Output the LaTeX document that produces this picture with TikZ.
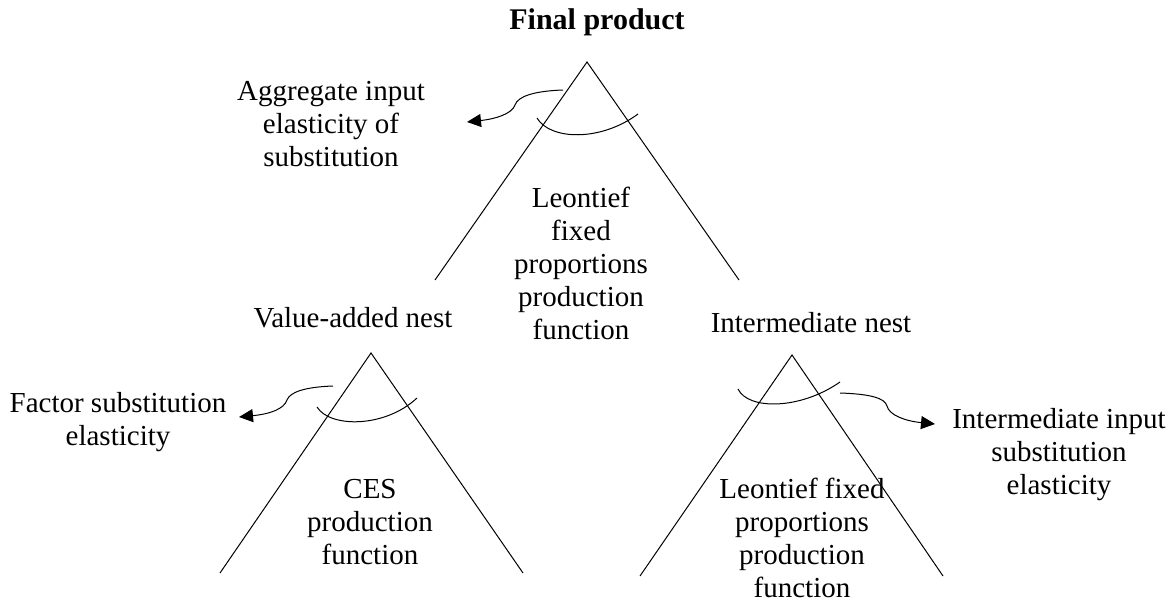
\documentclass[tikz,border=0pt]{standalone}
\usepackage{fontspec}
\setmainfont{Liberation Serif}
\usetikzlibrary{arrows.meta}
\begin{document}
\begin{tikzpicture}[x=1pt,y=-1pt,
  lbl/.style={font=\fontsize{29}{33}\selectfont, align=center, inner sep=0pt, anchor=base},
  edge/.style={line width=1pt, line join=miter},
  elast/.style={line width=1pt},
  pointer/.style={line width=1pt, -{Triangle[length=14pt,width=13pt]}}]
\useasboundingbox (0,0) rectangle (1172,605);

% nest triangles (apex and the two open leg ends)
\coordinate (topA) at (587,62);  \coordinate (topL) at (435,280); \coordinate (topR) at (739,280);
\coordinate (vaA)  at (371,353); \coordinate (vaL)  at (220,573); \coordinate (vaR)  at (523,573);
\coordinate (inA)  at (792,355); \coordinate (inL)  at (640,576); \coordinate (inR)  at (943,576);
\draw[edge] (topL) -- (topA) -- (topR);
\draw[edge] (vaL) -- (vaA) -- (vaR);
\draw[edge] (inL) -- (inA) -- (inR);

% labels (anchored at the baseline of their last line)
\node[lbl, font=\fontsize{30}{33}\selectfont\bfseries] (title) at (597,29) {Final product};
\node[lbl] (aggText) at (331,166) {Aggregate input\\elasticity of\\substitution};
\node[lbl] (topFn) at (581,339) {Leontief\\fixed\\proportions\\production\\function};
\node[lbl] (vaText) at (353,327) {Value-added nest};
\node[lbl] (intText) at (811,332) {Intermediate nest};
\node[lbl] (facText) at (118,445) {Factor substitution\\elasticity};
\node[lbl] (intinText) at (1059,494) {Intermediate input\\substitution\\elasticity};
\node[lbl] (cesFn) at (370,564) {CES\\production\\function};
\node[lbl] (intFn) at (802,597) {Leontief fixed\\proportions\\production\\function};

% elasticity arcs across the legs
\coordinate (topArcS) at (537,118); \coordinate (topArcE) at (638,114);
\draw[elast] (topArcS) .. controls (550,140) and (600,142) .. (topArcE);
\coordinate (vaArcS) at (317,407); \coordinate (vaArcE) at (417,398);
\draw[elast] (vaArcS) .. controls (330,428) and (385,428) .. (vaArcE);
\coordinate (inArcS) at (738,389); \coordinate (inArcE) at (840,382);
\draw[elast] (inArcS) .. controls (748,410) and (800,410) .. (inArcE);

% curved pointers from the arcs to their labels
\coordinate (topPtrS) at (563,90);  \coordinate (topPtrE) at (467,122);
\draw[pointer] (topPtrS) .. controls (535,91) and (518,96) .. (515,105)
  .. controls (512,114) and (495,119) .. (topPtrE);
\coordinate (vaPtrS) at (333,386);  \coordinate (vaPtrE) at (239,417);
\draw[pointer] (vaPtrS) .. controls (305,387) and (290,392) .. (287,400)
  .. controls (284,409) and (270,414) .. (vaPtrE);
\coordinate (inPtrS) at (840,393);  \coordinate (inPtrE) at (935,424);
\draw[pointer] (inPtrS) .. controls (870,394) and (885,398) .. (887,406)
  .. controls (889,415) and (905,421) .. (inPtrE);
\end{tikzpicture}
\end{document}
